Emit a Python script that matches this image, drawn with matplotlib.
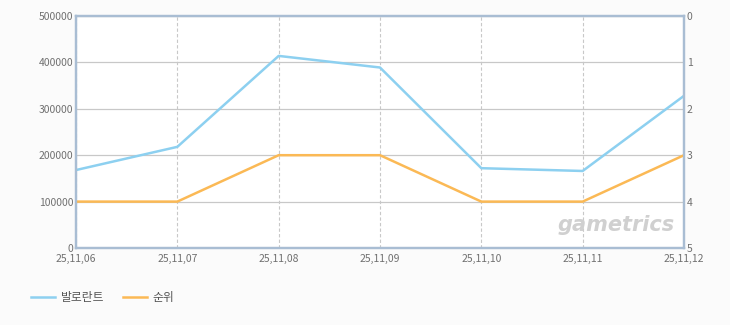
import matplotlib.pyplot as plt

dates = ['25,11,06', '25,11,07', '25,11,08', '25,11,09', '25,11,10', '25,11,11', '25,11,12']
valorant = [168000, 218000, 414000, 389000, 172000, 166000, 328000]
rank = [4, 4, 3, 3, 4, 4, 3]

plt.rcParams['font.family'] = ['Noto Sans CJK KR', 'DejaVu Sans']

fig = plt.figure(figsize=(7.3, 3.25), dpi=100, facecolor='#fbfbfb')
ax = fig.add_axes([76 / 730, 1 - 248 / 325, 608 / 730, 232 / 325])
ax.set_facecolor('white')

x = list(range(len(dates)))
l1, = ax.plot(x, valorant, color='#8dd0f0', linewidth=1.8, label='발로란트')
ax.set_xlim(0, len(dates) - 1)
ax.set_ylim(0, 500000)
ax.set_yticks(range(0, 500001, 100000))
ax.set_xticks(x)
ax.set_xticklabels(dates)
ax.yaxis.grid(True, color='#c8c8c8', linewidth=0.9)
ax.xaxis.grid(True, color='#c8c8c8', linestyle=(0, (3, 2)), linewidth=0.8)
ax.set_axisbelow(True)

ax2 = ax.twinx()
l2, = ax2.plot(x, rank, color='#fbb955', linewidth=1.8, label='순위')
ax2.set_ylim(5, 0)
ax2.set_yticks(range(0, 6))

for a in (ax, ax2):
    for s in a.spines.values():
        s.set_color('#a9bdd3')
        s.set_linewidth(1.6)
    a.tick_params(length=0, labelsize=7.5, colors='#707070', pad=2)
ax.tick_params(axis='x', pad=4)

# watermark
ax.text(0.985, 0.1, 'gametrics', transform=ax.transAxes, ha='right', va='center',
        fontsize=15, fontstyle='italic', fontweight='bold', color='#d0d0d0',
        family='DejaVu Sans')

fig.legend(handles=[l1, l2], loc='center left', bbox_to_anchor=(0.028, 1 - 298 / 325),
           ncol=2, frameon=False, fontsize=8.5, handlelength=2.0, columnspacing=1.6,
           labelcolor='#555555', handletextpad=0.5)

fig.savefig('out.png', dpi=100, facecolor=fig.get_facecolor())
